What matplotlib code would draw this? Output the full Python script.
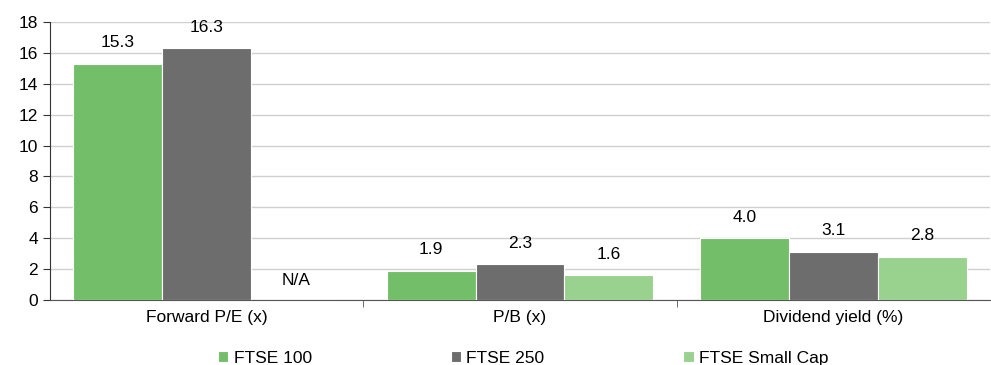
import numpy as np
import matplotlib.pyplot as plt

plt.rcParams['font.family'] = ['Liberation Sans Narrow', 'Liberation Sans', 'DejaVu Sans']

# Data
categories = ["Forward P/E (x)", "P/B (x)", "Dividend yield (%)"]
series_names = ["FTSE 100", "FTSE 250", "FTSE Small Cap"]
ftse100 = [15.3, 1.9, 4.0]
ftse250 = [16.3, 2.3, 3.1]
smallcap = [np.nan, 1.6, 2.8]
colors = ["#73bf69", "#6d6d6d", "#98d28e"]

fig = plt.figure(figsize=(9.91, 3.65), dpi=100)
ax = fig.add_axes([50/991, 65/365, 940/991, 278/365])

x = np.arange(len(categories))
w = 0.284
for i, (vals, name, c) in enumerate(zip([ftse100, ftse250, smallcap], series_names, colors)):
    pos = x + (i - 1) * w
    ax.bar(pos, np.nan_to_num(vals), w, color=c, edgecolor="white", linewidth=0.8,
           label=name, zorder=3)
    for px, v in zip(pos, vals):
        if np.isnan(v):
            ax.text(px, 1.0, "N/A", ha="center", va="baseline", fontsize=12.5)
        else:
            ax.annotate(f"{v:.1f}", (px, v), xytext=(0, 12), textcoords="offset points",
                        ha="center", va="baseline", fontsize=12.5)

#Axes styling
ax.set_xlim(-0.5, 2.5)
ax.set_ylim(0, 18)
ax.set_yticks(np.arange(0, 19, 2))
ax.set_xticks(x)
ax.set_xticklabels(categories, fontsize=12.5)
ax.set_xticks([0.5, 1.5], minor=True)
ax.tick_params(axis="x", which="major", length=0, pad=7)
ax.tick_params(axis="x", which="minor", length=5, color="#555555")
ax.tick_params(axis="y", labelsize=12.5, length=5, color="#333333")
ax.grid(axis="y", color="#d0d0d0", linewidth=1, zorder=0)
for s in ["top", "right"]:
    ax.spines[s].set_visible(False)
ax.spines["left"].set_color("#333333")
ax.spines["bottom"].set_color("#555555")

fig.legend(loc="lower center", bbox_to_anchor=(0.528, -0.045), ncol=3, frameon=False,
           fontsize=12.5, handlelength=0.6, handleheight=0.6, handletextpad=0.3,
           columnspacing=8.0)

fig.savefig("out.png", dpi=100)
